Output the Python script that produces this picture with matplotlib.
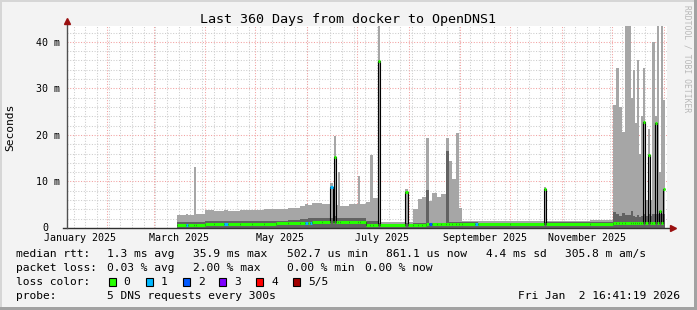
import matplotlib
matplotlib.use('Agg')
import matplotlib.pyplot as plt
import matplotlib.dates as mdates
from matplotlib.patches import Rectangle
from datetime import datetime

plt.rcParams['font.family'] = 'DejaVu Sans Mono'

# time window of the graph
start = datetime(2025, 1, 7, 16, 41, 19)
end = datetime(2026, 1, 2, 16, 41, 19)

# bucket edges, days since start
edges = [66.3, 71.7, 72.9, 76.5, 77.7, 83.1, 88.5, 94.5, 96.9, 104.1, 111.3, 118.5,
         125.7, 132.9, 140.1, 143.1, 144.9, 146.1, 147.3, 153.3, 158.1, 159.6, 160.5,
         161.7, 162.9, 164.1, 169.5, 174.9, 176.1, 179.7, 182.1, 183.9, 186.9, 188.1,
         203.1, 204.9, 207.9, 210.9, 213.3, 215.7, 217.5, 219.3, 222.3, 224.7, 227.7,
         229.5, 231.3, 233.7, 235.5, 237.3, 245.1, 246.9, 266.1, 286.5, 287.7, 314.1,
         327.9, 329.7, 331.5, 333.3, 335.1, 338.7, 339.9, 341.1, 342.3, 343.5, 344.7,
         345.9, 347.1, 348.9, 350.1, 351.3, 353.1, 354.3, 355.5, 356.7, 357.9, 359.1]

# ms values per bucket
smoke_hi = [2.9, 3.0, 2.8, 13.2, 3.1, 3.8, 3.6, 3.9, 3.7, 3.9, 3.8, 4.1, 4.0, 4.4,
            4.8, 5.2, 4.9, 4.9, 5.3, 5.1, 9.7, 5.5, 19.8, 5.0, 12.1, 4.7, 5.2, 11.2,
            5.2, 5.6, 15.7, 6.5, 43.4, 1.2, 8.3, 1.3, 4.0, 6.2, 6.6, 19.4, 5.9, 7.5,
            6.7, 7.3, 19.4, 14.3, 10.5, 20.4, 4.3, 1.5, 1.4, 1.4, 1.5, 8.9, 1.5, 1.8,
            26.4, 34.4, 26.0, 20.6, 43.4, 28.0, 34.0, 22.5, 36.0, 16.0, 24.0, 34.4,
            6.0, 21.3, 6.0, 40.0, 24.0, 43.4, 12.0, 43.4, 27.5]
smoke_dark = [1.2, 1.2, 1.2, 1.3, 1.3, 1.4, 1.4, 1.4, 1.5, 1.5, 1.5, 1.5, 1.6, 1.7,
              2.0, 2.0, 2.1, 2.1, 2.1, 2.2, 2.2, 2.2, 2.5, 2.2, 2.2, 2.1, 2.1, 2.1,
              2.1, 1.6, 1.6, 1.6, 1.0, 0.9, 1.0, 0.9, 1.0, 1.1, 1.1, 8.2, 1.1, 1.1,
              1.1, 1.1, 16.5, 1.2, 1.2, 1.2, 1.2, 1.2, 1.2, 1.15, 1.15, 1.2, 1.2, 1.3,
              3.5, 3.0, 2.5, 3.3, 2.8, 3.6, 2.6, 2.4, 2.7, 2.4, 2.5, 3.0,
              2.5, 3.0, 2.5, 3.0, 3.0, 3.0, 3.0, 3.0, 3.0]
median = [0.7, 0.6, 0.7, 0.7, 0.7, 0.9, 0.9, 0.8, 0.85, 0.9, 0.9, 0.95, 1.0, 1.0,
          1.1, 1.0, 1.1, 1.1, 1.2, 1.25, 8.9, 1.2, 15.3, 1.3, 1.3, 1.2, 1.2, 1.2,
          1.2, 0.7, 0.7, 0.7, 35.8, 0.65, 7.8, 0.7, 0.75, 0.75, 0.75, 0.8, 0.8, 0.85,
          0.85, 0.85, 0.9, 0.9, 0.9, 0.9, 0.9, 0.9, 0.9, 0.9, 0.9, 8.3, 0.9, 0.95,
          1.1, 1.1, 1.1, 1.1, 1.1, 1.1, 1.1, 1.1, 1.1, 1.1, 1.1, 22.8,
          1.1, 15.7, 1.1, 1.1, 22.6, 1.1, 3.7, 1.1, 8.4]
loss = [0, 1, 0, 0, 0, 0, 0, 1, 0, 0, 0, 0, 0, 0,
        0, 1, 0, 1, 0, 0, 1, 0, 0, 0, 0, 0, 0, 0,
        0, 0, 0, 0, 0, 0, 0, 0, 0, 0, 0, 0, 2, 0,
        0, 0, 0, 0, 0, 0, 0, 0, 1, 0, 0, 0, 0, 0,
        0, 0, 0, 0, 0, 0, 0, 0, 0, 0, 0, 0,
        0, 0, 0, 0, 0, 0, 0, 0, 0]

loss_colors = ['#26ff00', '#00b8ff', '#0059ff', '#7e00ff', '#ff0000', '#a10000']
loss_labels = ['0', '1', '2', '3', '4', '5/5']

W, H = 697, 310
fig = plt.figure(figsize=(W / 100, H / 100), dpi=100, facecolor='#f3f3f3')

def fx(px):
    return px / W

def fy(py):
    return 1 - py / H

ax = fig.add_axes([fx(66.5), fy(228), 600 / W, 202 / H])
ax.set_facecolor('white')

t0 = mdates.date2num(start)
xe = [t0 + d for d in edges]

# grid
minor_x = mdates.WeekdayLocator(byweekday=mdates.SU).tick_values(start, end)
major_x = mdates.MonthLocator(bymonthday=1).tick_values(start, end)
grid_kw = dict(linewidth=0.75, linestyle=(0, (1, 1.6)), zorder=0)
ax.vlines(minor_x, 0, 43.4, color='#cccccc', **grid_kw)
ax.hlines([v for v in range(2, 44, 2) if v % 10], t0, t0 + 360, color='#cccccc', **grid_kw)
ax.vlines(major_x, 0, 43.4, color='#f2a0a0', **grid_kw)
ax.hlines([10, 20, 30, 40], t0, t0 + 360, color='#f2a0a0', **grid_kw)

# smoke
ax.stairs(smoke_hi, xe, fill=True, color='#a6a6a6', zorder=2)
ax.stairs(smoke_dark, xe, fill=True, color='#626262', zorder=3)

# median line, coloured by loss
ax.stairs(median, xe, baseline=None, color='black', linewidth=0.8, zorder=4)
ax.hlines(median, xe[:-1], xe[1:], colors=[loss_colors[i] for i in loss],
          linewidth=2.2, zorder=5)

ax.set_xlim(t0, t0 + 360)
ax.set_ylim(0, 43.4)
for s in ax.spines.values():
    s.set_visible(False)

ax.xaxis.set_major_locator(mdates.MonthLocator(bymonth=[1, 3, 5, 7, 9, 11], bymonthday=16))
ax.xaxis.set_major_formatter(mdates.DateFormatter('%B %Y'))
ax.set_yticks([0, 10, 20, 30, 40])
ax.set_yticklabels(['', '10 m', '20 m', '30 m', '40 m'])
ax.tick_params(axis='both', length=0, labelsize=7.2, colors='black')
ax.tick_params(axis='x', pad=3.5)
ax.tick_params(axis='y', pad=4.6)
ax.text(-0.031, 0, '0', transform=ax.get_yaxis_transform(), ha='right', va='center',
        fontsize=7.2)
fig.text(fx(10), fy(127), 'Seconds', rotation=90, ha='center', va='center', fontsize=8.1)

# axes with arrows
ax.plot([-0.006, 1.01], [0, 0], transform=ax.transAxes, color='#303030',
        linewidth=1, clip_on=False, zorder=6)
ax.plot([0, 0], [0, 1.015], transform=ax.transAxes, color='#505050',
        linewidth=1, clip_on=False, zorder=6)
ax.plot([1.0115], [0], transform=ax.transAxes, marker='>', markersize=5,
        color='#9a1010', clip_on=False, zorder=7)
ax.plot([0], [1.025], transform=ax.transAxes, marker='^', markersize=5,
        color='#9a1010', clip_on=False, zorder=7)

# title and watermark
fig.text(fx(348), fy(19), 'Last 360 Days from docker to OpenDNS1', ha='center',
         va='center', fontsize=9.6)
fig.text(fx(687.5), fy(5), 'RRDTOOL / TOBI OETIKER', rotation=-90, ha='center',
         va='top', fontsize=5.8, color='#b8b8b8')

# legend lines
leg = 8.1
rows = [
    (254, [(16, 'median rtt:'), (107, '1.3 ms avg'), (193, '35.9 ms max'),
           (287, '502.7 us min'), (386, '861.1 us now'), (486, '4.4 ms sd'),
           (565, '305.8 m am/s')]),
    (268, [(16, 'packet loss:'), (107, '0.03 % avg'), (193, '2.00 % max'),
           (287, '0.00 % min'), (365, '0.00 % now')]),
    (282, [(16, 'loss color:')]),
    (296, [(16, 'probe:'), (107, '5 DNS requests every 300s')]),
]
for y, items in rows:
    for x, s in items:
        fig.text(fx(x), fy(y), s, ha='left', va='center', fontsize=leg)
fig.text(fx(680), fy(296), 'Fri Jan  2 16:41:19 2026', ha='right', va='center',
         fontsize=leg)

box_x = [109, 146, 183, 219, 256, 293]
lab_x = [123, 161, 198, 234, 271, 308]
for bx, lx, c, lab in zip(box_x, lab_x, loss_colors, loss_labels):
    fig.patches.append(Rectangle((fx(bx), fy(286)), 7 / W, 8 / H, transform=fig.transFigure,
                                 facecolor=c, edgecolor='black', linewidth=0.8))
    fig.text(fx(lx), fy(282), lab, ha='left', va='center', fontsize=leg)

# 3d frame of the canvas
frame = [((0, 0), 2, H, '#d6d6d6'), ((0, H - 2), W, 2, '#d6d6d6'),
         ((W - 3, 0), 3, H, '#a2a2a2'), ((0, 0), W, 3, '#a2a2a2')]
for (x, y), w, h, c in frame:
    fig.patches.append(Rectangle((x / W, y / H), w / W, h / H, transform=fig.transFigure,
                                 facecolor=c, edgecolor='none'))

fig.savefig('out.png', dpi=100, facecolor=fig.get_facecolor())
